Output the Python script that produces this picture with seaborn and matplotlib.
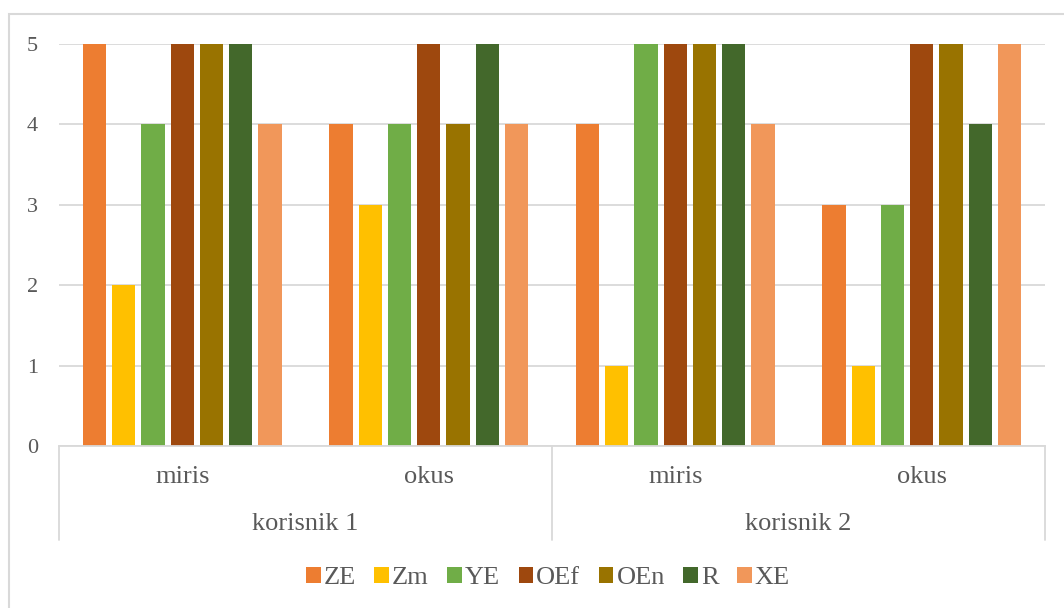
# grouped bar chart - korisnik 1 / korisnik 2, miris / okus

import pandas as pd
import numpy as np
import matplotlib
matplotlib.use("Agg")
import matplotlib.pyplot as plt
import seaborn as sns
from matplotlib.patches import Rectangle

# data
users = ["korisnik 1", "korisnik 2"]
senses = ["miris", "okus"]
series = ["ZE", "Zm", "YE", "OEf", "OEn", "R", "XE"]
colors = ["#ED7D31", "#FFC000", "#70AD47", "#9E480E", "#997300", "#43682B", "#F1975A"]

# one list per series, order: k1 miris, k1 okus, k2 miris, k2 okus
ZE = [5, 4, 4, 3]
Zm = [2, 3, 1, 1]
YE = [4, 4, 5, 3]
OEf = [5, 5, 5, 5]
OEn = [5, 4, 5, 5]
R = [5, 5, 5, 4]
XE = [4, 4, 4, 5]

cats = [f"{u} {s}" for u in users for s in senses]
rows = []
for name, vals in zip(series, [ZE, Zm, YE, OEf, OEn, R, XE]):
    for c, v in zip(cats, vals):
        rows.append({"cat": c, "series": name, "value": v})
df = pd.DataFrame(rows)

sns.set_style("white")
plt.rcParams["font.family"] = ["Liberation Serif", "DejaVu Serif"]
txt = "#595959"
line_col = "#d9d9d9"

fig = plt.figure(figsize=(10.64, 6.08), dpi=100)
ax = fig.add_axes([59 / 1064, 1 - 446 / 608, (1045 - 59) / 1064, 402 / 608])

sns.barplot(data=df, x="cat", y="value", hue="series", order=cats,
            hue_order=series, palette=colors, width=0.83, gap=0.2,
            saturation=1, linewidth=0, ax=ax, legend=True)

ax.set_xlim(-0.5, 3.5)
ax.set_ylim(0, 5)
ax.set_yticks(range(6))
ax.yaxis.grid(True, color=line_col, linewidth=1.3)
ax.set_axisbelow(True)
for sp in ["top", "right", "left"]:
    ax.spines[sp].set_visible(False)
ax.spines["bottom"].set_color(line_col)
ax.spines["bottom"].set_linewidth(1.3)
ax.tick_params(axis="y", length=0, labelsize=16, labelcolor=txt, pad=15)
ax.set_xticks([])
ax.set_xlabel("")
ax.set_ylabel("")

# multi-level category axis
tr = ax.get_xaxis_transform()
for xv in [-0.5, 1.5, 3.5]:
    ax.plot([xv, xv], [0, -0.234], transform=tr, color=line_col, lw=1.3, clip_on=False)
for i, c in enumerate(cats):
    ax.text(i, -0.077, senses[i % 2], transform=tr, ha="center", va="center",
            fontsize=19, color=txt)
for j, u in enumerate(users):
    ax.text(2 * j + 0.5, -0.195, u, transform=tr, ha="center", va="center",
            fontsize=19, color=txt)

# legend at bottom
handles, labels = ax.get_legend_handles_labels()
ax.legend_.remove()
fig.legend(handles, labels, loc="center", bbox_to_anchor=(0.515, 1 - 578 / 608),
           ncol=7, frameon=False, fontsize=19, handlelength=0.55, handleheight=0.55,
           handletextpad=0.12, columnspacing=0.7, labelcolor=txt)

# outer chart frame (left/top visible)
fig.patches.append(Rectangle((9 / 1064, -0.1), 1.2, 1 - 14 / 608 + 0.1,
                             transform=fig.transFigure, fill=False,
                             edgecolor=line_col, linewidth=1.5))

fig.savefig("out.png", dpi=100)
